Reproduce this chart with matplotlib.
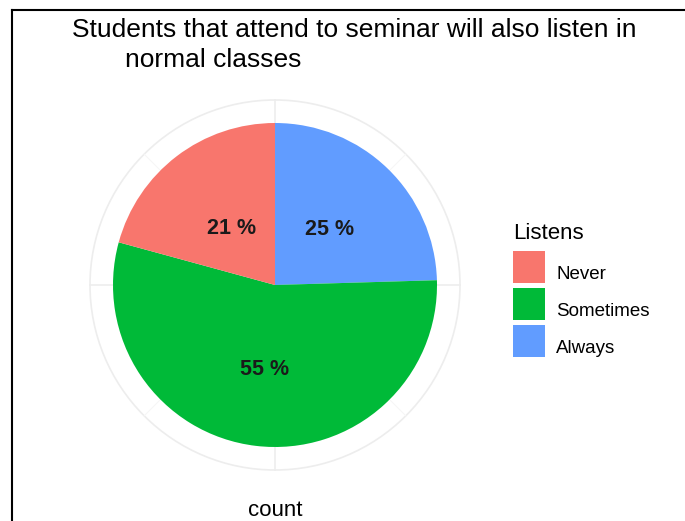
import numpy as np
import matplotlib.pyplot as plt
from matplotlib.lines import Line2D
from matplotlib.patches import Circle

plt.rcParams["font.family"] = ["Liberation Sans", "DejaVu Sans"]

# data
categories = ["Never", "Sometimes", "Always"]
counts = [11, 29, 13]
colors = ["#F8766D", "#00BA38", "#619CFF"]
theta_breaks = [0, 25, 50, 75]  # percent breaks of the theta axis

W, H = 685, 521
fig = plt.figure(figsize=(W / 100, H / 100), dpi=100)

# pie panel, centre at (275, 285) px, pie radius 162 px
cx, cy, rpx = 275, 285, 162
lim = 1.2
side = 2 * lim * rpx
ax = fig.add_axes([(cx - side / 2) / W, (H - cy - side / 2) / H, side / W, side / H])

# polar grid
r_grid = 185 / rpx
ax.add_patch(Circle((0, 0), r_grid, fill=False, ec="#EDEDED", lw=1.2, zorder=0))
for b in theta_breaks:
    a = np.deg2rad(90 - b * 3.6)
    ax.plot([0, r_grid * np.cos(a)], [0, r_grid * np.sin(a)], color="#EDEDED", lw=1.2, zorder=0)
    a2 = np.deg2rad(90 - (b + 12.5) * 3.6)
    ax.plot([0, r_grid * np.cos(a2)], [0, r_grid * np.sin(a2)], color="#F6F6F6", lw=0.8, zorder=0)

# ggplot stacks the last level first, clockwise from the top
vals = counts[::-1]
cols = colors[::-1]
label_r = [0.48, 0.525, 0.44]
total = sum(counts)
ax.pie(vals, colors=cols, startangle=90, counterclock=False, radius=1,
       wedgeprops=dict(linewidth=0), center=(0, 0), frame=True)
ax.set_xlim(-lim, lim)
ax.set_ylim(-lim, lim)
ax.set_aspect("equal")
ax.axis("off")

start = 0
for v, r in zip(vals, label_r):
    mid = start + v / 2
    a = np.deg2rad(90 - mid / total * 360)
    pct = round(v / total * 100)
    ax.text(r * np.cos(a), r * np.sin(a), f"{pct} %", ha="center", va="center",
            fontsize=15.5, fontweight="bold", color="#1a1a1a")
    start += v

# title
fig.text(72 / W, 1 - 30 / H, "Students that attend to seminar will also listen in",
         ha="left", va="center", fontsize=19)
fig.text(125 / W, 1 - 60 / H, "normal classes", ha="left", va="center", fontsize=19)

fig.text(cx / W, 1 - 510 / H, "count", ha="center", va="center", fontsize=16)

# legend
handles = [Line2D([], [], marker="s", linestyle="none", markersize=23,
                  markerfacecolor=c, markeredgewidth=0) for c in colors]
leg = fig.legend(handles, categories, title="Listens", loc="upper left",
                 bbox_to_anchor=(500 / W, 1 - 210 / H), frameon=False,
                 fontsize=13.5, title_fontsize=16, handlelength=1.7, handleheight=2.55,
                 labelspacing=0.07, handletextpad=0.6, borderpad=0.2)
leg._legend_box.align = "left"
leg._legend_box.sep = 8.2  # more room between title and keys

# frame on top and left of the picture
fig.add_artist(Line2D([11.5 / W, 11.5 / W], [0, 1 - 9.5 / H], color="black", lw=1.5))
fig.add_artist(Line2D([11.5 / W, 1], [1 - 9.5 / H, 1 - 9.5 / H], color="black", lw=1.5))

fig.savefig("out.png", dpi=100, facecolor="white")
